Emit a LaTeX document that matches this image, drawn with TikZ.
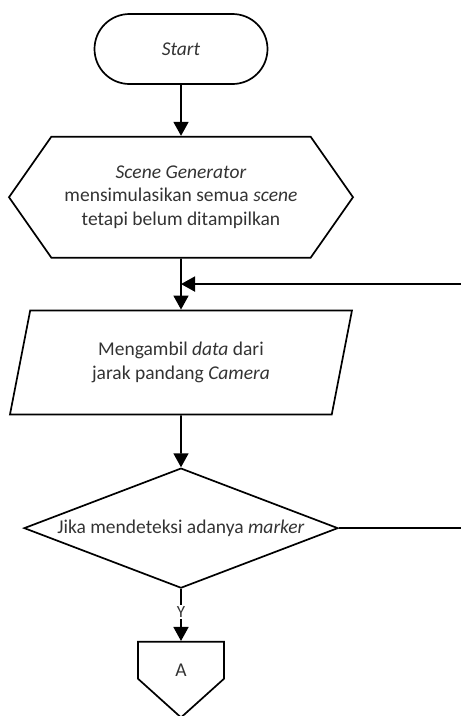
\documentclass[tikz,border=0pt]{standalone}
\usepackage{fontspec}
\setmainfont{Carlito}
\usetikzlibrary{positioning, shapes.geometric, shapes.misc, shapes.symbols, arrows.meta}

\tikzset{
    base/.style={draw, line width=1.7pt, text=black!80, font=\fontsize{19.5}{23.5}\selectfont, align=center, inner sep=0pt},
    terminal/.style={base, rounded rectangle, minimum width=173pt, minimum height=70pt},
    prep/.style={base, signal, signal to=west and east, signal pointer angle=110, minimum width=344pt, minimum height=121pt},
    io/.style={base, trapezium, trapezium left angle=63.4, trapezium right angle=116.6, trapezium stretches body, minimum width=342pt, minimum height=104pt},
    decision/.style={base, diamond, aspect=2.6, minimum width=314pt, minimum height=120pt},
    offpage/.style={base, signal, signal to=south, signal pointer angle=96, minimum width=86pt, minimum height=42pt, text height=32pt, text depth=0pt},
    arrow/.style={line width=1.7pt, -{Triangle[width=15pt, length=14pt]}},
    line/.style={line width=1.7pt}
}

\begin{document}
\begin{tikzpicture}[x=1pt, y=1pt, node distance=51pt]
    \useasboundingbox (0,0) rectangle (461,-716);
    \node[terminal] (start) at (181,-49) {\textit{Start}};
    \node[prep, below=of start] (scene) {\textit{Scene Generator}\\mensimulasikan semua \textit{scene}\\tetapi belum ditampilkan};
    \node[io, below=of scene] (data) {Mengambil \textit{data} dari\\jarak pandang \textit{Camera}};
    \node[decision, below=52pt of data] (marker) {Jika mendeteksi adanya \textit{marker}};
    \node[offpage, below=52pt of marker] (conA) {A};
    \coordinate (edge) at (461,0);
    \path (scene.south) -- (data.north) coordinate[pos=.5] (loop);
    % main flow
    \draw[arrow] (start) -- (scene);
    \draw[arrow] (scene) -- (data);
    \draw[arrow] (data) -- (marker);
    \draw[arrow] (marker) -- node[fill=white, text=black!80, font=\fontsize{17}{20}\selectfont, inner sep=1.5pt, pos=.45] {Y} (conA);
    % back to the loop
    \draw[line] (marker.east) -- (marker.east -| edge);
    \draw[arrow] (edge |- loop) -- (loop);
\end{tikzpicture}
\end{document}
